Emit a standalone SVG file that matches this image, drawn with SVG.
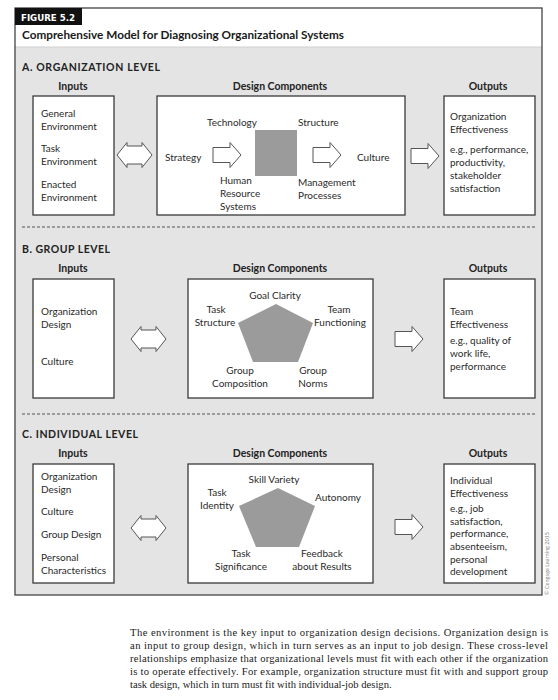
<svg xmlns="http://www.w3.org/2000/svg" width="558" height="700" viewBox="0 0 558 700">
<defs>
<style>
.t{font-family:Lato,"Open Sans","DejaVu Sans",sans-serif;font-size:10px;fill:#2a2a2a}
.c{text-anchor:middle}
.h{font-family:Lato,"Open Sans","DejaVu Sans",sans-serif;font-size:10.5px;font-weight:bold;fill:#222;text-anchor:middle}
.sec{font-family:Lato,"Open Sans","DejaVu Sans",sans-serif;font-size:10.5px;font-weight:bold;fill:#222}
.box{fill:#fff;stroke:#3a3a3a;stroke-width:1.3}
.arr{fill:#fff;stroke:#555;stroke-width:1}
.shape{fill:#9b9b9b}
.dash{stroke:#555;stroke-width:1;stroke-dasharray:3 2;fill:none}
.p{font-family:"Liberation Serif","Times New Roman",serif;font-size:10.6px;fill:#1a1a1a}
</style>
<path id="dbl" class="arr" d="M0,0 L10,-12.5 L10,-9 L25,-9 L25,-12.5 L35,0 L25,12.5 L25,9 L10,9 L10,12.5 Z"/>
<path id="sgl" class="arr" d="M0,-7.5 L17,-7.5 L17,-12.5 L28,0 L17,12.5 L17,7.5 L0,7.5 Z"/>
</defs>
<rect width="558" height="700" fill="#fff"/>
<g id="frame">
<rect x="15" y="47" width="527" height="548" fill="#e4e4e4"/>
<line x1="15" y1="47" x2="542" y2="47" stroke="#d0d0d0" stroke-width="1"/>
<rect x="15" y="8" width="527" height="587" fill="none" stroke="#444" stroke-width="1.3"/>
<rect x="15" y="8" width="67" height="17" fill="#111"/>
<text x="21" y="20.5" font-family="'DejaVu Sans Condensed','DejaVu Sans',sans-serif" font-weight="bold" font-size="9.5" fill="#fff" textLength="54" lengthAdjust="spacingAndGlyphs">FIGURE 5.2</text>
<text x="22" y="39" font-family="Lato,'Open Sans',sans-serif" font-weight="bold" font-size="11.3" fill="#1a1a1a" textLength="322" lengthAdjust="spacingAndGlyphs">Comprehensive Model for Diagnosing Organizational Systems</text>
<line class="dash" x1="22" y1="227" x2="535" y2="227"/>
<line class="dash" x1="22" y1="414" x2="535" y2="414"/>
<text x="549" y="595" transform="rotate(-90 549 595)" font-family="Lato,'Open Sans',sans-serif" font-size="5.5" fill="#888">© Cengage Learning 2015</text>
</g>

<g id="sectionA">
<text class="sec" x="22" y="71" textLength="138" lengthAdjust="spacing">A.  ORGANIZATION LEVEL</text>
<text class="h" x="73" y="90">Inputs</text>
<text class="h" x="280" y="90">Design Components</text>
<text class="h" x="488" y="90">Outputs</text>
</g>
<g id="inputsA">
<rect class="box" x="33" y="96" width="81" height="119"/>
<text class="t" x="41" y="117">General</text>
<text class="t" x="41" y="130">Environment</text>
<text class="t" x="41" y="152">Task</text>
<text class="t" x="41" y="165">Environment</text>
<text class="t" x="41" y="188">Enacted</text>
<text class="t" x="41" y="201">Environment</text>
</g>
<g id="designA">
<rect class="box" x="157" y="96" width="248" height="119"/>
<rect class="shape" x="255" y="130" width="42" height="46"/>
<text class="t" x="207" y="126">Technology</text>
<text class="t" x="298" y="126">Structure</text>
<text class="t" x="165" y="161">Strategy</text>
<text class="t" x="357" y="161">Culture</text>
<text class="t" x="220" y="184">Human</text>
<text class="t" x="220" y="197">Resource</text>
<text class="t" x="220" y="210">Systems</text>
<text class="t" x="298" y="186">Management</text>
<text class="t" x="298" y="199">Processes</text>
</g>
<g id="outputsA">
<rect class="box" x="444" y="96" width="91" height="119"/>
<text class="t" x="450" y="120">Organization</text>
<text class="t" x="450" y="133">Effectiveness</text>
<text class="t" x="450" y="153">e.g., performance,</text>
<text class="t" x="450" y="166">productivity,</text>
<text class="t" x="450" y="179">stakeholder</text>
<text class="t" x="450" y="192">satisfaction</text>
</g>

<g id="sectionB">
<text class="sec" x="22" y="253" textLength="88" lengthAdjust="spacing">B.  GROUP LEVEL</text>
<text class="h" x="73" y="272">Inputs</text>
<text class="h" x="280" y="272">Design Components</text>
<text class="h" x="488" y="272">Outputs</text>
</g>
<g id="inputsB">
<rect class="box" x="33" y="279" width="81" height="119"/>
<text class="t" x="41" y="315">Organization</text>
<text class="t" x="41" y="328">Design</text>
<text class="t" x="41" y="365">Culture</text>
</g>
<g id="designB">
<rect class="box" x="188" y="279" width="185" height="119"/>
<polygon class="shape" points="276,304 313,323 298,362 253,362 238,323"/>
<text class="t c" x="275" y="299">Goal Clarity</text>
<text class="t c" x="216" y="313">Task</text>
<text class="t c" x="215" y="326">Structure</text>
<text class="t c" x="339" y="313">Team</text>
<text class="t c" x="340" y="326">Functioning</text>
<text class="t c" x="240" y="374">Group</text>
<text class="t c" x="240" y="387">Composition</text>
<text class="t c" x="313" y="374">Group</text>
<text class="t c" x="313" y="387">Norms</text>
</g>
<g id="outputsB">
<rect class="box" x="444" y="279" width="91" height="119"/>
<text class="t" x="450" y="315">Team</text>
<text class="t" x="450" y="328">Effectiveness</text>
<text class="t" x="450" y="344">e.g., quality of</text>
<text class="t" x="450" y="357">work life,</text>
<text class="t" x="450" y="370">performance</text>
</g>

<g id="sectionC">
<text class="sec" x="22" y="438" textLength="116" lengthAdjust="spacing">C.  INDIVIDUAL LEVEL</text>
<text class="h" x="73" y="457">Inputs</text>
<text class="h" x="280" y="457">Design Components</text>
<text class="h" x="488" y="457">Outputs</text>
</g>
<g id="inputsC">
<rect class="box" x="33" y="464" width="81" height="119"/>
<text class="t" x="41" y="480">Organization</text>
<text class="t" x="41" y="493">Design</text>
<text class="t" x="41" y="515">Culture</text>
<text class="t" x="41" y="538">Group Design</text>
<text class="t" x="41" y="561">Personal</text>
<text class="t" x="41" y="574">Characteristics</text>
</g>
<g id="designC">
<rect class="box" x="188" y="464" width="185" height="119"/>
<polygon class="shape" points="278,488 315,506 299,547 256,547 239,506"/>
<text class="t c" x="274" y="483">Skill Variety</text>
<text class="t c" x="217" y="496">Task</text>
<text class="t c" x="217" y="509">Identity</text>
<text class="t c" x="338" y="501">Autonomy</text>
<text class="t c" x="241" y="557">Task</text>
<text class="t c" x="241" y="570">Significance</text>
<text class="t c" x="322" y="557">Feedback</text>
<text class="t c" x="322" y="570">about Results</text>
</g>
<g id="outputsC">
<rect class="box" x="444" y="464" width="91" height="119"/>
<text class="t" x="450" y="484">Individual</text>
<text class="t" x="450" y="497">Effectiveness</text>
<text class="t" x="450" y="512">e.g., job</text>
<text class="t" x="450" y="525">satisfaction,</text>
<text class="t" x="450" y="537">performance,</text>
<text class="t" x="450" y="550">absenteeism,</text>
<text class="t" x="450" y="563">personal</text>
<text class="t" x="450" y="575">development</text>
</g>

<g id="connectors">
<use href="#dbl" x="117" y="155"/>
<use href="#sgl" x="213" y="155"/>
<use href="#sgl" x="313" y="155"/>
<use href="#sgl" x="411" y="156"/>
<use href="#dbl" x="131" y="339"/>
<use href="#sgl" x="395" y="339"/>
<use href="#dbl" x="131" y="528"/>
<use href="#sgl" x="395" y="527"/>
</g>

<g id="caption">
<text class="p" x="130" y="636" textLength="418" lengthAdjust="spacing">The environment is the key input to organization design decisions. Organization design is</text>
<text class="p" x="130" y="649" textLength="418" lengthAdjust="spacing">an input to group design, which in turn serves as an input to job design. These cross-level</text>
<text class="p" x="130" y="662" textLength="418" lengthAdjust="spacing">relationships emphasize that organizational levels must fit with each other if the organization</text>
<text class="p" x="130" y="675" textLength="418" lengthAdjust="spacing">is to operate effectively. For example, organization structure must fit with and support group</text>
<text class="p" x="130" y="688">task design, which in turn must fit with individual-job design.</text>
</g>
</svg>
